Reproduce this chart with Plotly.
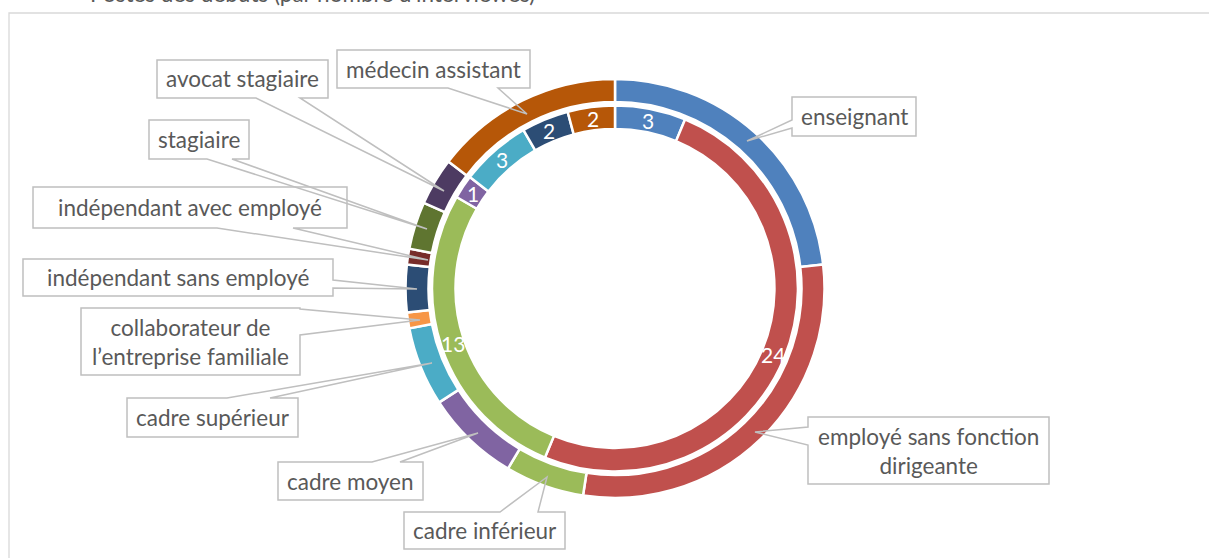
import math
import plotly.graph_objects as go

# ---------------- data ----------------
categories = [
    "enseignant",
    "employé sans fonction dirigeante",
    "cadre inférieur",
    "cadre moyen",
    "cadre supérieur",
    "collaborateur de l’entreprise familiale",
    "indépendant sans employé",
    "indépendant avec employé",
    "stagiaire",
    "avocat stagiaire",
    "médecin assistant",
]
outer_values = [19, 24, 5, 6, 5, 1, 3, 1, 3, 3, 12]

inner_categories = [
    "enseignant",
    "employé sans fonction dirigeante",
    "cadre inférieur",
    "cadre moyen",
    "cadre supérieur",
    "indépendant sans employé",
    "médecin assistant",
]
inner_values = [3, 24, 13, 1, 3, 2, 2]

label_text = {
    "collaborateur de l’entreprise familiale": "collaborateur de<br>l’entreprise familiale",
    "employé sans fonction dirigeante": "employé sans fonction<br>dirigeante",
}

title_text = "Postes des débuts (par nombre d'interviewés)"

# ---------------- styles / layout ----------------
colors = {
    "enseignant": "#4F81BD",
    "employé sans fonction dirigeante": "#C0504D",
    "cadre inférieur": "#9BBB59",
    "cadre moyen": "#8064A2",
    "cadre supérieur": "#4BACC6",
    "collaborateur de l’entreprise familiale": "#F79646",
    "indépendant sans employé": "#2C4D75",
    "indépendant avec employé": "#772C2A",
    "stagiaire": "#5F7530",
    "avocat stagiaire": "#4D3B62",
    "médecin assistant": "#B65708",
}

W, H = 1209, 558
CX, CY = 615, 288.5
R_OUT, R_OUT_IN = 209.5, 186.5
R_IN, R_IN_IN = 183.0, 159.5
FONT = "Lato, Calibri, sans-serif"
TXT = "#595959"
BOX_LINE = "#BFBFBF"
LABEL_SIZE = 22.5
VALUE_SIZE = 21


def px(x):
    return x / W


def py(y):
    return 1 - y / H


def domain(r):
    return dict(x=[px(CX - r), px(CX + r)], y=[py(CY + r), py(CY - r)])


# callout geometry: box (x0, y0, x1, y1), edge, base positions, target point
callouts = {
    "enseignant": ((792, 97, 916, 136), "left", (120, 128), (747, 141)),
    "employé sans fonction dirigeante": ((808, 417, 1049, 484), "left", (427, 445), (755, 432)),
    "cadre inférieur": ((404, 512, 565, 549), "top", (500, 538), (547, 477)),
    "cadre moyen": ((278, 462, 423, 500), "top", (372, 400), (478, 433)),
    "cadre supérieur": ((127, 398, 298, 437), "top", (227, 270), (432, 363)),
    "collaborateur de l’entreprise familiale": ((81, 308, 300, 375), "right", (309, 335), (420, 320)),
    "indépendant sans employé": ((23, 259, 333, 296), "right", (280, 288), (417, 289)),
    "indépendant avec employé": ((33, 187, 347, 228), "bottom", (217, 293), (428, 260)),
    "stagiaire": ((149, 120, 249, 159), "bottom", (207, 232), (427, 229)),
    "avocat stagiaire": ((157, 60, 328, 98), "bottom", (256, 300), (444, 191)),
    "médecin assistant": ((337, 50, 530, 88), "bottom", (448, 498), (527, 114)),
}


def outline_path(box, edge, bases, target):
    x0, y0, x1, y1 = box
    a, b = bases
    tx, ty = target
    TL, TR, BR, BL = (x0, y0), (x1, y0), (x1, y1), (x0, y1)
    if edge == "bottom":
        pts = [(a, y1), BL, TL, TR, BR, (b, y1), (tx, ty)]
    elif edge == "top":
        pts = [(b, y0), TR, BR, BL, TL, (a, y0), (tx, ty)]
    elif edge == "left":
        pts = [(x0, a), TL, TR, BR, BL, (x0, b), (tx, ty)]
    else:  # right
        pts = [(x1, b), BR, BL, TL, TR, (x1, a), (tx, ty)]
    return "M " + " L ".join(f"{px(x):.5f},{py(y):.5f}" for x, y in pts) + " Z"


fig = go.Figure()

fig.add_trace(go.Pie(
    values=outer_values,
    labels=categories,
    marker=dict(colors=[colors[c] for c in categories], line=dict(color="white", width=2.5)),
    hole=R_OUT_IN / R_OUT,
    domain=domain(R_OUT),
    sort=False,
    direction="clockwise",
    rotation=0,
    textinfo="none",
    showlegend=False,
    hoverinfo="label+value",
))

fig.add_trace(go.Pie(
    values=inner_values,
    labels=inner_categories,
    marker=dict(colors=[colors[c] for c in inner_categories], line=dict(color="white", width=2.5)),
    hole=R_IN_IN / R_IN,
    domain=domain(R_IN),
    sort=False,
    direction="clockwise",
    rotation=0,
    textinfo="none",
    showlegend=False,
    hoverinfo="label+value",
))

shapes = []
annotations = []

# chart area border
shapes.append(dict(type="rect", xref="paper", yref="paper",
                   x0=px(9), x1=px(1300), y0=py(700), y1=py(13),
                   line=dict(color="#D9D9D9", width=1.3), fillcolor="rgba(0,0,0,0)", layer="below"))

# inner ring value labels (positions derived from the values)
total_in = sum(inner_values)
cum = 0
r_lab = (R_IN + R_IN_IN) / 2
for v in inner_values:
    mid = (cum + v / 2) / total_in * 2 * math.pi
    cum += v
    x = CX + r_lab * math.sin(mid)
    y = CY - r_lab * math.cos(mid)
    annotations.append(dict(x=px(x), y=py(y), xref="paper", yref="paper", text=str(v),
                            showarrow=False, font=dict(family=FONT, size=VALUE_SIZE, color="white"),
                            xanchor="center", yanchor="middle"))

# callout boxes
for cat in categories:
    box, edge, bases, target = callouts[cat]
    x0, y0, x1, y1 = box
    shapes.append(dict(type="rect", xref="paper", yref="paper",
                       x0=px(x0), x1=px(x1), y0=py(y1), y1=py(y0),
                       line=dict(width=0), fillcolor="white", layer="above"))
    shapes.append(dict(type="path", xref="paper", yref="paper",
                       path=outline_path(box, edge, bases, target),
                       line=dict(color=BOX_LINE, width=1.5), fillcolor="rgba(0,0,0,0)", layer="above"))
    annotations.append(dict(x=px((x0 + x1) / 2), y=py((y0 + y1) / 2), xref="paper", yref="paper",
                            text=label_text.get(cat, cat), showarrow=False,
                            font=dict(family=FONT, size=LABEL_SIZE, color=TXT),
                            xanchor="center", yanchor="middle", align="center"))

# title (mostly cut off at the top edge, as in the reference)
annotations.append(dict(x=px(537), y=py(9), xref="paper", yref="paper", text=title_text,
                        showarrow=False, font=dict(family=FONT, size=LABEL_SIZE, color=TXT),
                        xanchor="right", yanchor="bottom"))

fig.update_layout(
    width=W, height=H,
    margin=dict(l=0, r=0, t=0, b=0),
    paper_bgcolor="white", plot_bgcolor="white",
    shapes=shapes, annotations=annotations,
    showlegend=False,
)

fig.write_html("out.html", config={"displayModeBar": False},
               post_script="document.body.style.margin='0';")
